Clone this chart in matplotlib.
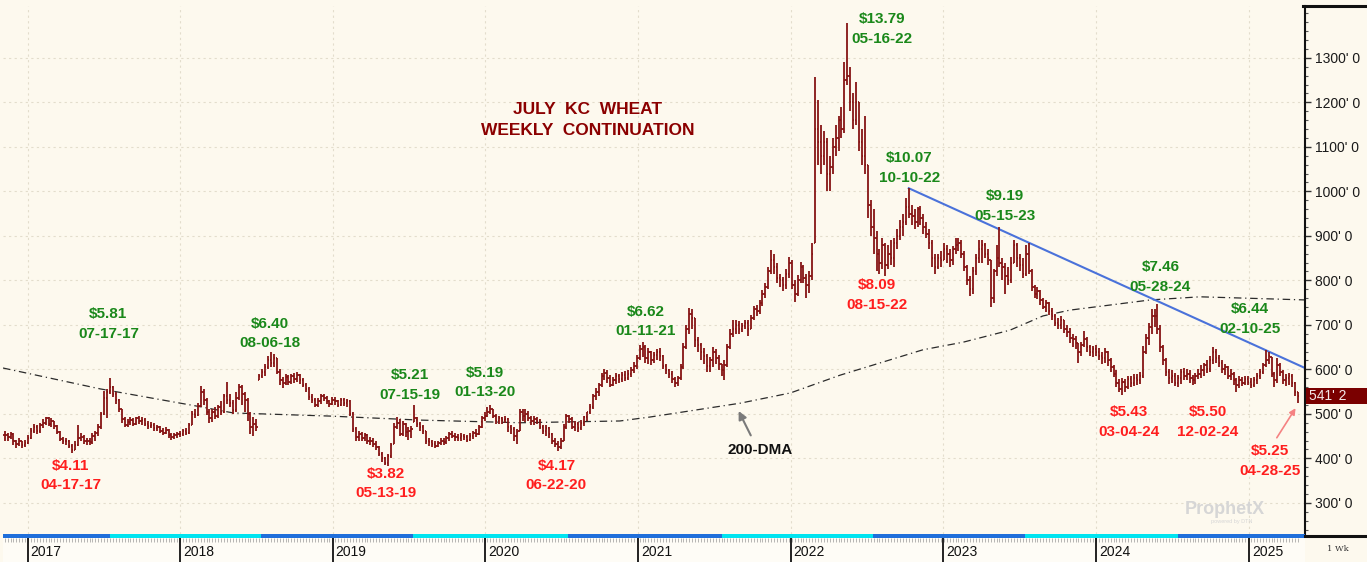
import pandas as pd
import numpy as np
import matplotlib
matplotlib.use("Agg")
import matplotlib.pyplot as plt
import matplotlib.dates as mdates
from matplotlib.collections import LineCollection
from matplotlib.patches import Rectangle
from matplotlib.lines import Line2D
from matplotlib.transforms import blended_transform_factory

OUT_PATH = "out.png"

# weekly bars (cents / bushel), one list per calendar year, week starting Monday
start_2016 = "2016-11-07"
high_2016 = [462, 458, 460, 456, 442, 446, 440, 442]
low_2016 = [440, 438, 444, 430, 424, 428, 424, 426]
close_2016 = [452, 448, 455, 440, 432, 438, 430, 434]

start_2017 = "2017-01-02"
high_2017 = [452, 468, 478, 474, 480, 488, 494, 492, 490, 485, 475, 462, 448, 446, 442, 432, 438, 476,
             458, 452, 446, 445, 456, 462, 478, 505, 552, 556, 581, 562, 548, 534, 512, 492, 488, 492,
             490, 494, 496, 492, 490, 484, 482, 480, 476, 472, 468, 470, 466, 458, 458, 460]
low_2017 = [432, 444, 458, 455, 458, 468, 475, 472, 470, 466, 455, 440, 432, 430, 424, 411, 418, 428,
            438, 432, 430, 430, 432, 440, 450, 465, 498, 490, 545, 538, 522, 505, 480, 470, 470, 476,
            472, 476, 478, 476, 472, 466, 468, 462, 462, 456, 452, 454, 446, 442, 444, 446]
close_2017 = [445, 462, 470, 462, 474, 480, 490, 478, 483, 472, 460, 444, 438, 440, 428, 418, 430, 445,
              448, 440, 438, 436, 450, 458, 470, 500, 535, 548, 560, 545, 530, 510, 488, 475, 482, 486,
              478, 490, 484, 486, 478, 472, 476, 468, 470, 462, 458, 464, 452, 448, 452, 455]

start_2018 = "2018-01-01"
high_2018 = [462, 466, 468, 480, 506, 512, 525, 562, 556, 535, 510, 512, 515, 520, 528, 545, 571, 545,
             530, 550, 568, 565, 550, 535, 505, 492, 488, 590, 600, 612, 630, 640, 635, 625, 600, 582,
             590, 588, 590, 592, 594, 590, 580, 570, 560, 545, 535, 535, 545, 545, 540, 532, 538]
low_2018 = [448, 450, 452, 455, 474, 490, 495, 515, 520, 498, 480, 482, 488, 490, 498, 502, 522, 515,
            500, 505, 530, 520, 505, 485, 455, 450, 462, 575, 580, 585, 600, 605, 605, 590, 565, 558,
            565, 565, 568, 570, 572, 566, 560, 548, 532, 525, 515, 515, 522, 528, 522, 515, 520]
close_2018 = [455, 462, 458, 476, 500, 498, 518, 550, 530, 505, 490, 505, 495, 515, 505, 540, 530, 525,
              508, 535, 560, 545, 530, 500, 470, 478, 470, 585, 595, 605, 620, 615, 625, 595, 575, 570,
              582, 572, 585, 578, 588, 575, 565, 555, 538, 530, 520, 528, 540, 535, 528, 522, 530]

start_2019 = "2019-01-07"
high_2019 = [538, 532, 535, 536, 534, 530, 505, 470, 462, 460, 458, 455, 448, 445, 438, 428, 415, 402,
             410, 435, 480, 493, 488, 485, 480, 470, 472, 521, 492, 482, 475, 462, 445, 442, 438, 440,
             445, 446, 450, 460, 462, 456, 455, 456, 455, 452, 456, 462, 465, 475, 495, 505]
low_2019 = [520, 515, 518, 518, 516, 495, 460, 440, 438, 440, 440, 432, 430, 426, 418, 405, 392, 385,
            382, 400, 432, 465, 450, 450, 448, 442, 445, 482, 470, 462, 455, 432, 428, 426, 424, 425,
            430, 430, 432, 440, 445, 440, 438, 440, 442, 436, 438, 444, 448, 452, 468, 485]
close_2019 = [528, 520, 530, 525, 528, 500, 465, 448, 455, 445, 452, 438, 440, 432, 425, 410, 400, 390,
              405, 430, 470, 480, 455, 478, 460, 462, 465, 490, 478, 470, 462, 440, 436, 432, 428, 435,
              440, 436, 446, 455, 450, 448, 445, 450, 448, 442, 450, 458, 455, 470, 490, 495]

start_2020 = "2020-01-06"
high_2020 = [515, 519, 512, 500, 495, 494, 496, 490, 475, 470, 465, 512, 512, 510, 506, 496, 495, 492,
             488, 475, 474, 470, 458, 445, 438, 446, 478, 500, 498, 492, 484, 482, 486, 496, 505, 522,
             545, 558, 570, 592, 600, 598, 588, 582, 592, 590, 594, 596, 598, 605, 616, 632]
low_2020 = [492, 500, 490, 478, 478, 478, 480, 460, 455, 440, 432, 462, 485, 482, 485, 476, 476, 478,
            465, 455, 450, 445, 432, 425, 417, 422, 438, 465, 480, 465, 462, 460, 464, 472, 485, 500,
            512, 530, 540, 560, 575, 570, 560, 562, 566, 570, 572, 574, 576, 582, 592, 600]
close_2020 = [505, 510, 495, 485, 490, 486, 488, 470, 465, 450, 460, 505, 495, 500, 490, 484, 488, 485,
              470, 462, 468, 455, 440, 432, 425, 440, 470, 495, 488, 470, 478, 468, 480, 492, 505, 515,
              540, 548, 565, 585, 592, 580, 565, 575, 585, 578, 588, 580, 590, 598, 608, 625]

start_2021 = "2021-01-04"
high_2021 = [655, 662, 655, 648, 642, 640, 645, 648, 632, 612, 600, 596, 582, 586, 612, 660, 700, 738,
             735, 715, 672, 660, 648, 635, 628, 650, 645, 632, 612, 620, 658, 690, 710, 712, 708, 705,
             712, 710, 722, 742, 745, 755, 778, 795, 830, 868, 860, 840, 815, 808, 825, 852]
low_2021 = [620, 628, 615, 612, 610, 615, 620, 618, 600, 590, 580, 570, 560, 562, 575, 600, 645, 680,
            690, 650, 640, 620, 612, 595, 595, 605, 612, 598, 585, 575, 605, 645, 672, 680, 680, 685,
            690, 675, 690, 712, 720, 725, 742, 760, 780, 815, 815, 795, 785, 775, 780, 805]
close_2021 = [645, 650, 625, 640, 620, 632, 640, 630, 608, 598, 590, 578, 570, 580, 605, 650, 690, 725,
              715, 665, 655, 640, 630, 608, 620, 640, 625, 612, 598, 610, 650, 680, 690, 700, 690, 698,
              705, 690, 715, 735, 730, 748, 770, 785, 820, 845, 830, 805, 800, 790, 815, 840]

start_2022 = "2022-01-03"
high_2022 = [845, 800, 812, 842, 835, 815, 820, 885, 1257, 1205, 1150, 1135, 1120, 1080, 1120, 1150,
             1170, 1190, 1290, 1379, 1280, 1220, 1245, 1200, 1140, 1170, 1060, 980, 960, 910, 870, 895,
             885, 880, 890, 895, 915, 935, 950, 985, 1007, 970, 960, 965, 968, 948, 930, 915, 890, 860,
             860, 865]
low_2022 = [780, 752, 765, 795, 795, 760, 772, 800, 883, 1060, 1040, 1060, 1000, 1000, 1040, 1080, 1090,
            1120, 1130, 1240, 1180, 1140, 1150, 1090, 1060, 1040, 940, 900, 860, 820, 815, 825, 809, 825,
            835, 830, 870, 890, 900, 925, 940, 925, 915, 920, 925, 905, 895, 870, 830, 815, 825, 830]
close_2022 = [790, 770, 800, 830, 805, 790, 810, 860, 1140, 1110, 1080, 1110, 1040, 1055, 1100, 1120,
              1160, 1140, 1250, 1260, 1200, 1160, 1200, 1110, 1080, 1060, 970, 920, 895, 860, 840, 880,
              835, 860, 850, 885, 900, 920, 930, 965, 950, 945, 930, 960, 940, 920, 905, 885, 850, 830,
              850, 845]

start_2023 = "2023-01-02"
high_2023 = [885, 880, 870, 878, 895, 895, 890, 865, 835, 810, 830, 860, 890, 890, 885, 870, 845, 825,
             880, 919, 850, 840, 830, 852, 890, 885, 860, 850, 880, 885, 825, 790, 785, 778, 760, 755,
             752, 738, 725, 715, 720, 712, 700, 692, 680, 675, 660, 662, 686, 672, 655, 652]
low_2023 = [845, 840, 830, 835, 860, 865, 850, 820, 790, 765, 770, 812, 840, 840, 850, 835, 740, 750,
            810, 830, 800, 770, 790, 795, 840, 830, 820, 805, 810, 815, 775, 760, 758, 745, 735, 728,
            722, 710, 698, 690, 690, 682, 672, 660, 650, 645, 615, 630, 650, 640, 630, 628]
close_2023 = [870, 860, 845, 870, 880, 885, 860, 830, 800, 780, 820, 850, 870, 880, 860, 850, 760, 820,
              850, 840, 830, 810, 800, 840, 880, 850, 835, 815, 860, 820, 785, 770, 775, 755, 740, 748,
              730, 720, 705, 700, 712, 690, 685, 670, 668, 660, 640, 655, 668, 650, 640, 645]

start_2024 = "2024-01-01"
high_2024 = [655, 648, 640, 648, 642, 625, 610, 598, 578, 580, 578, 585, 586, 590, 590, 595, 652, 680,
             705, 735, 735, 746, 700, 655, 625, 600, 598, 592, 588, 600, 602, 600, 598, 588, 592, 600,
             610, 615, 620, 630, 650, 645, 632, 622, 612, 608, 600, 594, 580, 585, 582, 585, 586]
low_2024 = [630, 620, 612, 615, 608, 595, 582, 560, 548, 543, 550, 555, 560, 562, 565, 568, 580, 635,
            655, 680, 695, 680, 640, 610, 585, 568, 570, 562, 560, 568, 575, 575, 570, 565, 568, 578,
            580, 585, 592, 595, 612, 615, 605, 592, 588, 578, 575, 565, 550, 558, 562, 565, 565]
close_2024 = [640, 630, 625, 640, 620, 605, 590, 570, 555, 572, 560, 578, 570, 580, 575, 585, 640, 670,
              695, 720, 720, 690, 650, 620, 595, 580, 585, 570, 580, 595, 585, 590, 580, 575, 585, 590,
              598, 610, 600, 620, 640, 625, 615, 600, 605, 585, 590, 575, 565, 575, 570, 578, 572]

start_2025 = "2025-01-06"
high_2025 = [580, 582, 592, 600, 615, 644, 640, 628, 595, 625, 615, 598, 590, 592, 590, 572, 550]
low_2025 = [558, 560, 568, 578, 590, 605, 612, 582, 560, 570, 585, 566, 562, 565, 560, 540, 525]
close_2025 = [565, 575, 585, 595, 610, 620, 630, 590, 575, 610, 595, 575, 580, 585, 570, 548, 541]

# 200-day moving average
dma_dates = ["2016-11-03", "2017-06-24", "2018-02-18", "2018-05-08", "2018-12-25", "2019-07-28",
             "2020-03-25", "2020-11-18", "2021-01-30", "2021-09-02", "2021-12-31", "2022-04-29",
             "2022-11-13", "2023-02-17", "2023-06-09", "2023-08-27", "2023-10-30", "2024-05-10",
             "2024-09-06", "2025-05-15"]
dma_values = [603, 556, 516, 502, 495, 486, 480, 484, 493, 524, 547, 587, 644, 661, 688, 720, 733,
              756, 763, 756]

# down trend line from the Oct-2022 high
trend_dates = ["2022-10-10", "2025-05-15"]
trend_values = [1007, 603]

# contract roll dates (colour band under the chart)
roll_dates = ["2017-07-16", "2018-07-13", "2019-07-12", "2020-07-16", "2021-07-19",
              "2022-07-16", "2023-07-16", "2024-07-16"]

# price call-outs: text, date, price level of the label centre, colour key
label_texts = ["$5.81\n07-17-17", "$4.11\n04-17-17", "$6.40\n08-06-18", "$3.82\n05-13-19",
               "$5.21\n07-15-19", "$5.19\n01-13-20", "$4.17\n06-22-20", "$6.62\n01-11-21",
               "$13.79\n05-16-22", "$8.09\n08-15-22", "$10.07\n10-10-22", "$9.19\n05-15-23",
               "$7.46\n05-28-24", "$5.43\n03-04-24", "$6.44\n02-10-25", "$5.50\n12-02-24",
               "$5.25\n04-28-25"]
label_dates = ["2017-07-13", "2017-04-14", "2018-08-04", "2019-05-08", "2019-07-05", "2020-01-01",
               "2020-06-19", "2021-01-19", "2022-08-07", "2022-07-26", "2022-10-12", "2023-05-28",
               "2024-06-03", "2024-03-21", "2025-01-04", "2024-09-24", "2025-02-21"]
label_levels = [702, 361, 680, 343, 565, 570, 361, 707, 1365, 767, 1053, 967, 808, 482, 713, 482, 394]
label_kinds = ["hi", "lo", "hi", "lo", "hi", "hi", "lo", "hi", "hi", "lo", "hi", "hi",
               "hi", "lo", "hi", "lo", "lo"]

LAST_PRICE = 541
LAST_TEXT = "541' 2"

BG = "#FDF9EE"
BAR_COLOR = "#861414"
GREEN = "#1A881A"
RED = "#FF1E1E"
TITLE_COLOR = "#8B0000"
BLUE = "#1F6FDB"
CYAN = "#00E4F0"

W, H = 1367, 562


def fx(px):
    return px / W


def fy(py):
    return 1 - py / H


def load_bars():
    pieces = [
        (start_2016, high_2016, low_2016, close_2016),
        (start_2017, high_2017, low_2017, close_2017),
        (start_2018, high_2018, low_2018, close_2018),
        (start_2019, high_2019, low_2019, close_2019),
        (start_2020, high_2020, low_2020, close_2020),
        (start_2021, high_2021, low_2021, close_2021),
        (start_2022, high_2022, low_2022, close_2022),
        (start_2023, high_2023, low_2023, close_2023),
        (start_2024, high_2024, low_2024, close_2024),
        (start_2025, high_2025, low_2025, close_2025),
    ]
    frames = []
    for start, hi, lo, cl in pieces:
        frames.append(pd.DataFrame({
            "date": pd.date_range(start, periods=len(cl), freq="7D"),
            "high": hi,
            "low": lo,
            "close": cl,
        }))
    df = pd.concat(frames, ignore_index=True)
    df["open"] = df["close"].shift(1).fillna(df["close"])
    df["open"] = np.clip(df["open"], df["low"], df["high"])
    return df


def draw_bars(ax, df):
    x = mdates.date2num(df["date"])
    segs = []
    for xi, o, h, l, c in zip(x, df["open"], df["high"], df["low"], df["close"]):
        segs.append([(xi, l), (xi, h)])
        segs.append([(xi - 3, o), (xi, o)])
        segs.append([(xi, c), (xi + 3, c)])
    ax.add_collection(LineCollection(segs, colors=BAR_COLOR, linewidths=1.3, capstyle="butt"))


def main():
    plt.rcParams["font.family"] = ["Liberation Sans", "DejaVu Sans"]

    df = load_bars()

    fig = plt.figure(figsize=(W / 100, H / 100), dpi=100)
    fig.patch.set_facecolor(BG)

    xmin = mdates.date2num(pd.Timestamp("2016-11-03"))
    xmax = mdates.date2num(pd.Timestamp("2025-05-15"))

    ax = fig.add_axes([fx(3), fy(534), fx(1305) - fx(3), fy(6) - fy(534)])
    ax.set_facecolor(BG)
    ax.set_xlim(xmin, xmax)
    ax.set_ylim(230, 1416.5)

    # grid + axis
    ax.xaxis.set_major_locator(mdates.YearLocator())
    ax.set_yticks(range(300, 1301, 100))
    ax.set_yticks(range(240, 1411, 20), minor=True)
    ax.set_yticklabels([f"{v}' 0" for v in range(300, 1301, 100)])
    ax.yaxis.tick_right()
    ax.tick_params(axis="x", length=0, labelbottom=False)
    ax.tick_params(axis="y", which="major", direction="out", length=4, width=1,
                   color="#333333", pad=3, labelsize=10, labelcolor="#1A1A1A")
    ax.tick_params(axis="y", which="minor", direction="out", length=2, width=0.8, color="#555555")
    ax.grid(True, which="major", color="#E3DDCC", linestyle=(0, (2, 3)), linewidth=0.8)
    ax.set_axisbelow(True)
    for side in ["left", "top", "bottom"]:
        ax.spines[side].set_visible(False)
    ax.spines["right"].set_color("#111111")
    ax.spines["right"].set_linewidth(1.5)

    # 200-DMA and trend line
    ax.plot(pd.to_datetime(dma_dates), dma_values, color="#2B2B2B", linewidth=0.9,
            linestyle=(0, (6, 3, 1, 3)))
    ax.plot(pd.to_datetime(trend_dates), trend_values, color="#4A72DA", linewidth=1.5)

    draw_bars(ax, df)

    # title
    ax.text(pd.Timestamp("2020-09-01"), 1160, "JULY  KC  WHEAT\nWEEKLY  CONTINUATION",
            ha="center", va="center", color=TITLE_COLOR, fontsize=12.5, fontweight="bold",
            linespacing=1.55)

    # high / low call-outs
    for txt, d, lvl, kind in zip(label_texts, label_dates, label_levels, label_kinds):
        ax.text(pd.Timestamp(d), lvl, txt, ha="center", va="center",
                color=GREEN if kind == "hi" else RED, fontsize=11, fontweight="bold",
                linespacing=1.5)

    ax.text(pd.Timestamp("2021-10-19"), 419, "200-DMA", ha="center", va="center",
            color="#111111", fontsize=11, fontweight="bold")
    ax.annotate("", xy=(pd.Timestamp("2021-08-26"), 512), xytext=(pd.Timestamp("2021-09-30"), 446),
                arrowprops=dict(arrowstyle="-|>", color="#7A7A7A", lw=1.5, mutation_scale=12))
    ax.annotate("", xy=(pd.Timestamp("2025-04-26"), 518), xytext=(pd.Timestamp("2025-03-05"), 441),
                arrowprops=dict(arrowstyle="-|>", color="#F58282", lw=1.2, mutation_scale=9))

    # watermark
    ax.text(pd.Timestamp("2024-11-04"), 284, "ProphetX", ha="center", va="center",
            color="#D6D6D6", fontsize=13, fontweight="bold")
    ax.text(pd.Timestamp("2024-11-20"), 257, "powered by DTN", ha="center", va="center",
            color="#D6D6D6", fontsize=4)

    # last price box on the scale
    trans = blended_transform_factory(fig.transFigure, ax.transData)
    ax.add_patch(Rectangle((fx(1306), LAST_PRICE - 18), 1 - fx(1306), 36, transform=trans,
                           facecolor="#7A0000", edgecolor="none", clip_on=False, zorder=5))
    ax.text(fx(1309), LAST_PRICE, LAST_TEXT, transform=trans, ha="left", va="center",
            color="#F3E8E8", fontsize=10, zorder=6)

    # contract band
    ax_band = fig.add_axes([fx(3), fy(538), fx(1305) - fx(3), fy(534) - fy(538)])
    ax_band.set_xlim(xmin, xmax)
    ax_band.set_ylim(0, 1)
    edges = [xmin] + list(mdates.date2num(pd.to_datetime(roll_dates))) + [xmax]
    for i in range(len(edges) - 1):
        ax_band.axvspan(edges[i], edges[i + 1], color=BLUE if i % 2 == 0 else CYAN, lw=0)
    ax_band.axis("off")

    # time strip
    ax_time = fig.add_axes([fx(3), 0, fx(1305) - fx(3), fy(538)])
    ax_time.set_facecolor("#FEFCF6")
    ax_time.set_xlim(xmin, xmax)
    ax_time.set_ylim(0, 1)
    ax_time.set_xticks([])
    ax_time.set_yticks([])
    ax_time.set_xticks(mdates.date2num(df["date"]), minor=True)
    ax_time.tick_params(axis="x", which="minor", direction="in", top=True, bottom=False,
                        length=3, width=0.5, color="#9A9A9A")
    for side in ["left", "right", "bottom", "top"]:
        ax_time.spines[side].set_visible(False)
    for year in range(2017, 2026):
        xd = pd.Timestamp(f"{year}-01-01")
        ax_time.axvline(xd, color="#111111", linewidth=1.3)
        ax_time.annotate(str(year), xy=(mdates.date2num(xd), 0.42),
                         xycoords=("data", "axes fraction"), xytext=(2, 0),
                         textcoords="offset points", ha="left", va="center",
                         fontsize=10, color="#111111")

    # right panel frame lines
    fig.add_artist(Line2D([fx(1303), 1], [fy(6), fy(6)], color="#111111", linewidth=2.2))
    fig.add_artist(Line2D([fx(1305), 1], [fy(536), fy(536)], color="#111111", linewidth=2.2))
    fig.text(fx(1338), fy(549), "1 Wk", fontsize=6, color="#333333", family="DejaVu Serif",
             ha="center", va="center")

    fig.savefig(OUT_PATH, dpi=100, facecolor=fig.get_facecolor())
    plt.close(fig)


if __name__ == "__main__":
    main()
